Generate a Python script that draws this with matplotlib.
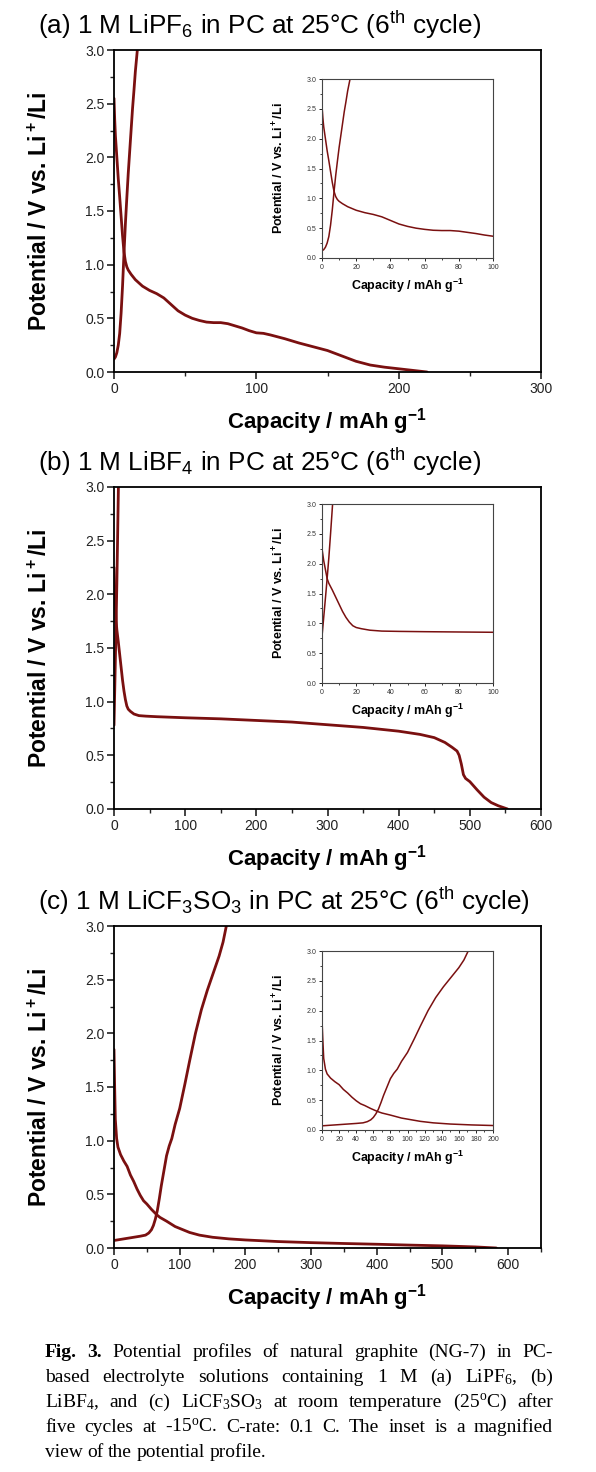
"""Potential profiles of NG-7 graphite in PC electrolytes (three stacked panels with insets)."""
import matplotlib
matplotlib.use("Agg")
import matplotlib.pyplot as plt
from matplotlib.ticker import MultipleLocator, FormatStrFormatter

plt.rcParams.update({"font.family": "Liberation Sans", "axes.linewidth": 1.3})

RED = "#7a1010"
W, H = 596, 1472

# ---- data: (capacity mAh/g, potential V) ----
A_DIS_X = [0, 0.5, 1, 2, 3, 4, 5, 6, 7, 8, 9, 10, 12, 15, 20, 25, 30, 35, 40, 45, 50, 55,
           60, 65, 70, 75, 80, 85, 90, 95, 100, 105, 110, 120, 130, 140, 150, 160, 170,
           180, 190, 200, 210, 220]
A_DIS_Y = [2.55, 2.35, 2.2, 2.0, 1.8, 1.63, 1.45, 1.27, 1.12, 1.03, 0.98, 0.95, 0.91, 0.86,
           0.80, 0.76, 0.73, 0.69, 0.63, 0.57, 0.53, 0.50, 0.48, 0.465, 0.46, 0.46, 0.45,
           0.43, 0.41, 0.385, 0.365, 0.36, 0.345, 0.31, 0.27, 0.235, 0.2, 0.15, 0.1, 0.065,
           0.045, 0.03, 0.015, 0.0]
A_CHG_X = [0, 1, 2, 3, 4, 5, 6, 7, 8, 9, 10, 11, 12, 13, 14, 15, 16.4]
A_CHG_Y = [0.12, 0.14, 0.18, 0.25, 0.36, 0.55, 0.8, 1.1, 1.38, 1.62, 1.85, 2.05, 2.25,
           2.45, 2.62, 2.8, 3.0]

B_DIS_X = [0, 1, 2, 3, 4, 6, 8, 10, 12, 14, 16, 18, 20, 23, 28, 35, 45, 60, 80, 100, 150,
           200, 250, 300, 350, 400, 430, 450, 465, 475, 482, 485, 488, 491, 494, 500, 510,
           520, 530, 540, 553]
B_DIS_Y = [2.25, 2.05, 1.9, 1.75, 1.67, 1.56, 1.44, 1.32, 1.2, 1.1, 1.02, 0.96, 0.93, 0.91,
           0.885, 0.87, 0.865, 0.86, 0.855, 0.85, 0.84, 0.825, 0.81, 0.785, 0.76, 0.725,
           0.695, 0.665, 0.62, 0.575, 0.54, 0.5, 0.42, 0.32, 0.285, 0.255, 0.18, 0.11,
           0.06, 0.03, 0.0]
B_CHG_X = [0, 1, 2, 3, 4, 5, 6.2]
B_CHG_Y = [0.78, 1.1, 1.42, 1.75, 2.1, 2.5, 3.0]

C_DIS_X = [0, 1, 2, 4, 6, 10, 15, 20, 25, 30, 35, 40, 45, 50, 57, 65, 70, 80, 93, 105, 115,
           130, 150, 175, 200, 250, 300, 350, 400, 450, 500, 550, 582]
C_DIS_Y = [1.85, 1.5, 1.2, 1.02, 0.94, 0.87, 0.81, 0.76, 0.68, 0.62, 0.55, 0.49, 0.44, 0.41,
           0.36, 0.31, 0.285, 0.25, 0.2, 0.17, 0.145, 0.12, 0.1, 0.085, 0.075, 0.06, 0.05,
           0.042, 0.035, 0.027, 0.02, 0.01, 0.0]
C_CHG_X = [0, 10, 25, 40, 48, 53, 57, 60, 63, 66, 69, 72, 76, 80, 84, 88, 93, 100, 108, 115,
           124, 133, 142, 151, 160, 166, 171]
C_CHG_Y = [0.07, 0.08, 0.095, 0.11, 0.12, 0.14, 0.17, 0.21, 0.27, 0.35, 0.46, 0.58, 0.72,
           0.86, 0.95, 1.02, 1.15, 1.3, 1.53, 1.74, 2.0, 2.22, 2.4, 2.56, 2.72, 2.85, 3.0]

TITLES = [r"(a) 1 M LiPF$\mathregular{_6}$ in PC at 25°C (6$\mathregular{^{th}}$ cycle)",
          r"(b) 1 M LiBF$\mathregular{_4}$ in PC at 25°C (6$\mathregular{^{th}}$ cycle)",
          r"(c) 1 M LiCF$\mathregular{_3}$SO$\mathregular{_3}$ in PC at 25°C (6$\mathregular{^{th}}$ cycle)"]
YLAB = r"Potential / V vs. Li$\mathregular{^+}$/Li"
XLAB = r"Capacity / mAh g$\mathregular{^{-1}}$"

CAPTION = [
    ([("Fig.", "bold"), ("3.", "bold"), ("Potential", ""), ("profiles", ""), ("of", ""),
      ("natural", ""), ("graphite", ""), ("(NG-7)", ""), ("in", ""), ("PC-", "")], True),
    ([("based", ""), ("electrolyte", ""), ("solutions", ""), ("containing", ""), ("1", ""),
      ("M", ""), ("(a)", ""), (r"LiPF$\mathregular{_6}$,", ""), ("(b)", "")], True),
    ([(r"LiBF$\mathregular{_4}$,", ""), ("and", ""), ("(c)", ""),
      (r"LiCF$\mathregular{_3}$SO$\mathregular{_3}$", ""), ("at", ""), ("room", ""),
      ("temperature", ""), (r"(25$\mathregular{^o}$C)", ""), ("after", "")], True),
    ([("five", ""), ("cycles", ""), ("at", ""), (r"-15$\mathregular{^o}$C.", ""),
      ("C-rate:", ""), ("0.1", ""), ("C.", ""), ("The", ""), ("inset", ""), ("is", ""),
      ("a", ""), ("magnified", "")], True),
    ([("view", ""), ("of", ""), ("the", ""), ("potential", ""), ("profile.", "")], False),
]

fig = plt.figure(figsize=(W / 100, H / 100), dpi=100)

AX_L, AX_W, AX_H = 114 / W, 427 / W, 322 / H
IN_L, IN_W, IN_H = 322 / W, 171 / W, 179 / H


def style(ax, xmaj, big):
    ax.set_ylim(0, 3)
    ax.xaxis.set_major_locator(MultipleLocator(xmaj))
    ax.xaxis.set_minor_locator(MultipleLocator(xmaj / 2))
    ax.yaxis.set_major_locator(MultipleLocator(0.5))
    ax.yaxis.set_minor_locator(MultipleLocator(0.25))
    ax.yaxis.set_major_formatter(FormatStrFormatter("%.1f"))
    ax.tick_params(which="both", direction="out", top=False, right=False, color="#222222")
    if big:
        ax.tick_params(which="major", length=5, width=1.2, labelsize=10, pad=2,
                       labelcolor="#222222")
        ax.tick_params(which="minor", length=3, width=1.0)
    else:
        ax.tick_params(which="major", length=2.5, width=0.7, labelsize=5, pad=1.5,
                       labelcolor="#333333")
        ax.tick_params(which="minor", length=1.3, width=0.6)
        for s in ax.spines.values():
            s.set_linewidth(0.8)
            s.set_color("#444444")


def panel(top_px, inset_top_px, title, dx, dy, cx, cy, xmax, xmaj, ixmax, ixmaj):
    ax = fig.add_axes([AX_L, 1 - (top_px + 322) / H, AX_W, AX_H])
    ax.plot(dx, dy, color=RED, lw=2.0, solid_capstyle="round")
    ax.plot(cx, cy, color=RED, lw=2.0, solid_capstyle="round")
    ax.set_xlim(0, xmax)
    style(ax, xmaj, True)
    ax.set_ylabel(YLAB, fontsize=16.5, fontweight="bold")
    ax.yaxis.set_label_coords(-62 / 427, 0.5)
    ax.set_xlabel(XLAB, fontsize=16, fontweight="bold")
    ax.xaxis.set_label_coords(0.5, -50 / 322)
    ax.xaxis.label.set_va("center")
    fig.text(38 / W, 1 - (top_px - 25) / H, title, fontsize=18.8, va="center", ha="left")

    ins = fig.add_axes([IN_L, 1 - (inset_top_px + 179) / H, IN_W, IN_H])
    ins.plot(dx, dy, color=RED, lw=1.1)
    ins.plot(cx, cy, color=RED, lw=1.1)
    ins.set_xlim(0, ixmax)
    style(ins, ixmaj, False)
    ins.set_ylabel(YLAB, fontsize=9, fontweight="bold")
    ins.yaxis.set_label_coords(-35 / 171, 0.5)
    ins.set_xlabel(XLAB, fontsize=9, fontweight="bold")
    ins.xaxis.set_label_coords(0.5, -28 / 179)
    ins.xaxis.label.set_va("center")


panel(50, 79, TITLES[0], A_DIS_X, A_DIS_Y, A_CHG_X, A_CHG_Y, 300, 100, 100, 20)
panel(487, 504, TITLES[1], B_DIS_X, B_DIS_Y, B_CHG_X, B_CHG_Y, 600, 100, 100, 20)
panel(926, 951, TITLES[2], C_DIS_X, C_DIS_Y, C_CHG_X, C_CHG_Y, 650, 100, 200, 20)

# justified caption in Times-like serif
X0, X1 = 45 / W, 553 / W
r = fig.canvas.get_renderer()
for i, (words, justify) in enumerate(CAPTION):
    y = 1 - (1357 + i * 25) / H
    texts = [fig.text(0, y, t, fontsize=14, family="Liberation Serif",
                      fontweight=(wt or "normal"), va="baseline") for t, wt in words]
    widths = [t.get_window_extent(r).width / W for t in texts]
    gap = (X1 - X0 - sum(widths)) / (len(texts) - 1) if justify else 4.5 / W
    x = X0
    for t, w in zip(texts, widths):
        t.set_x(x)
        x += w + gap

fig.savefig("out.png", dpi=100)
